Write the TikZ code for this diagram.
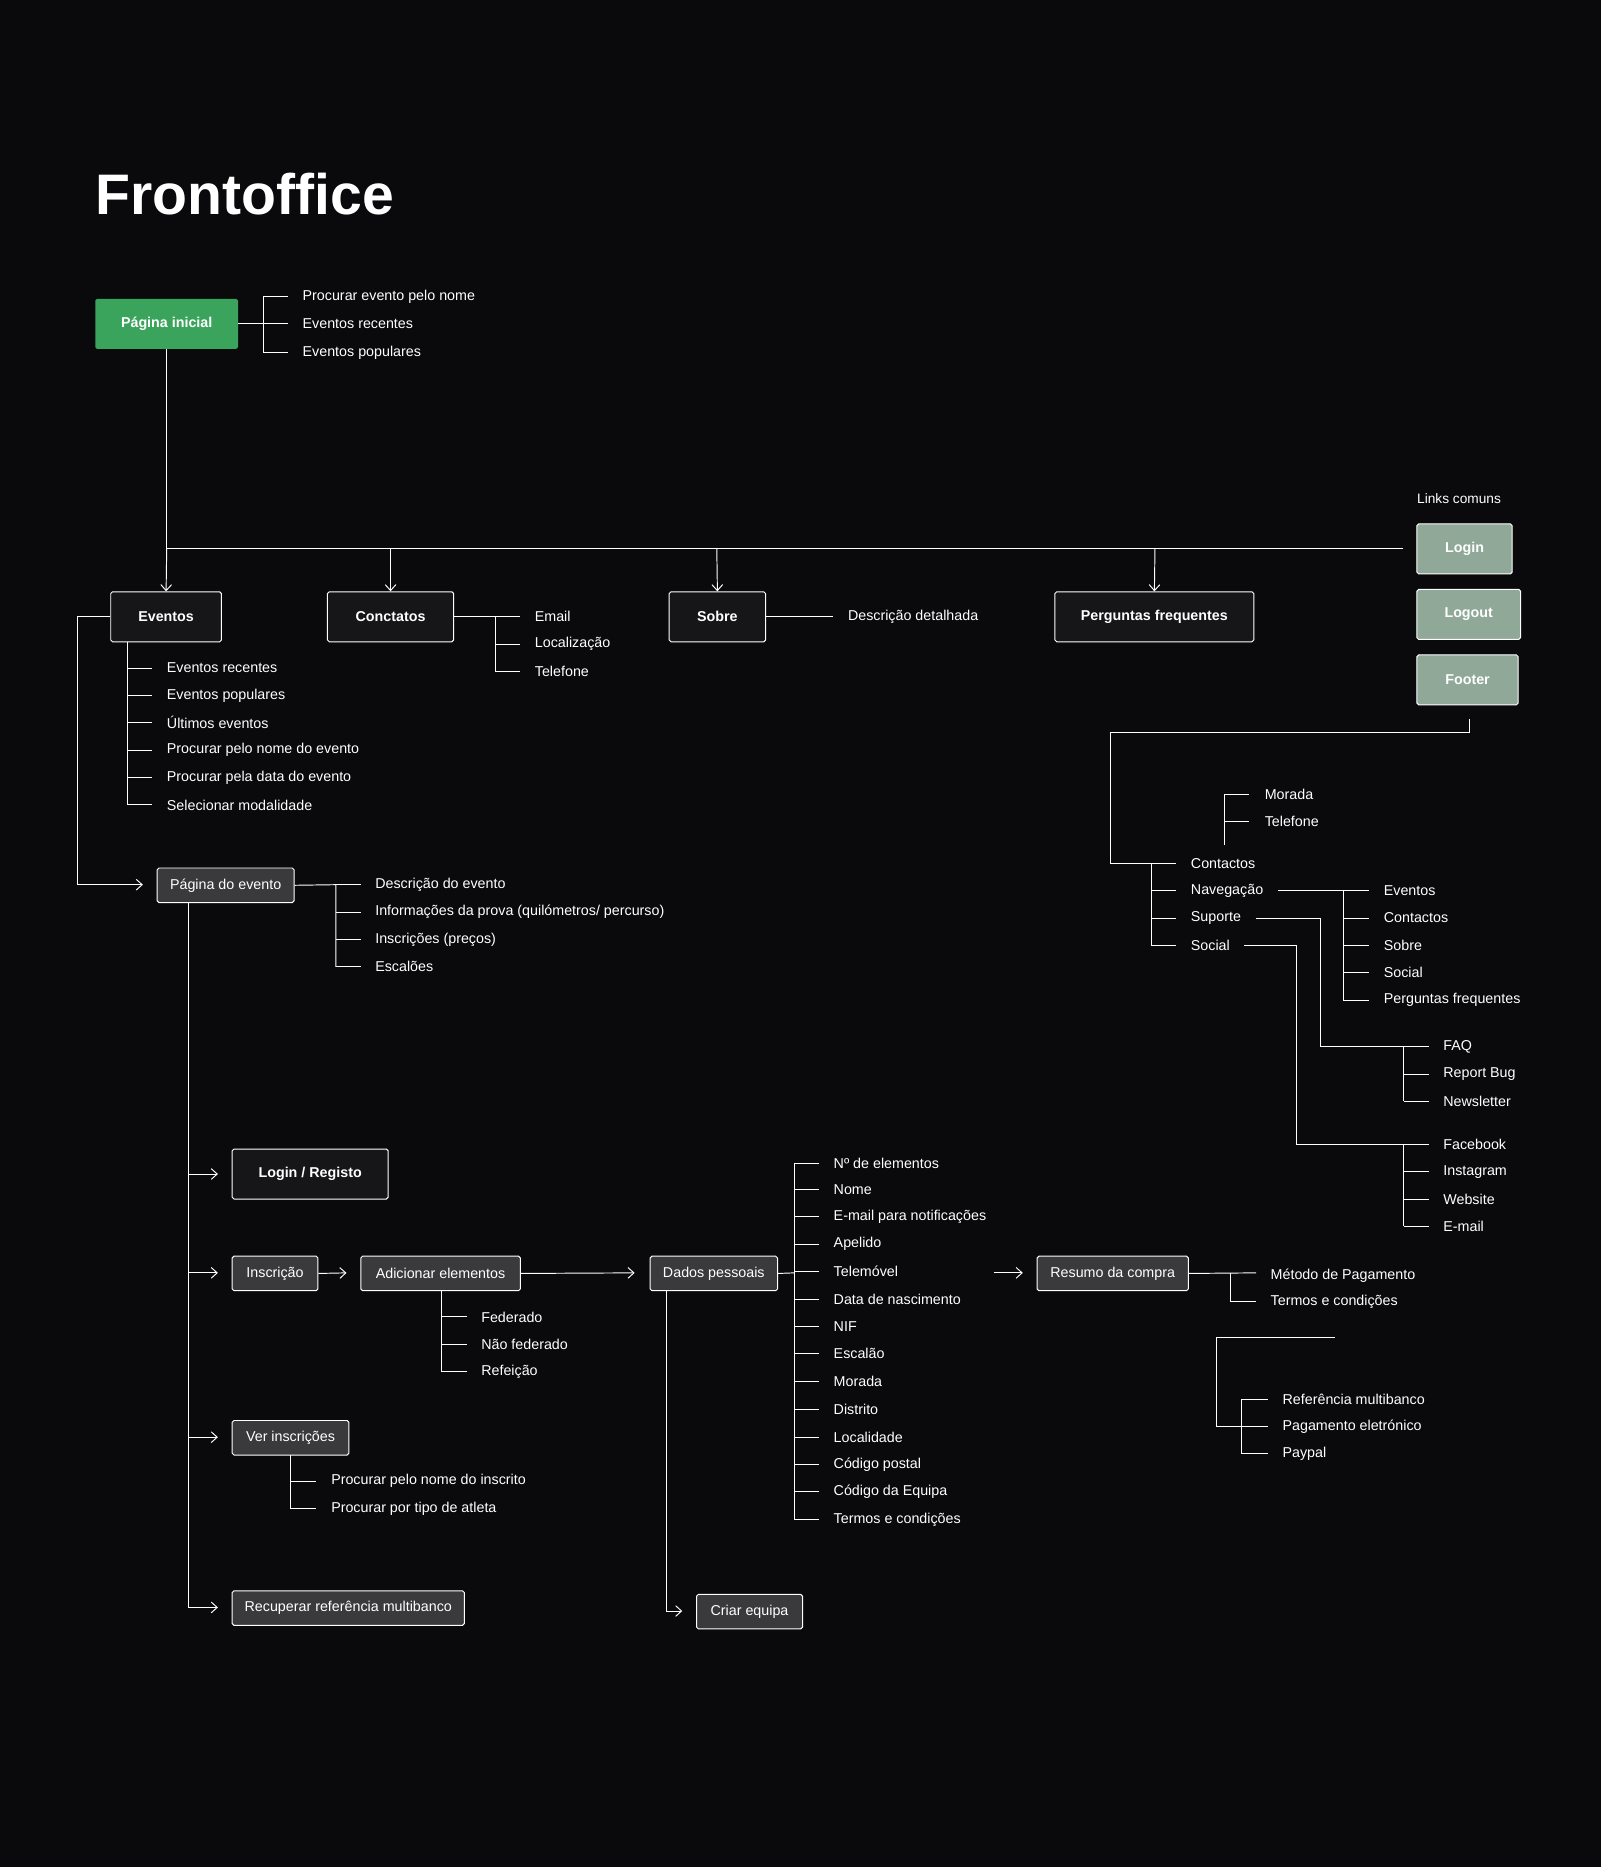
\documentclass[tikz,border=0pt]{standalone}
\usepackage{fontspec}
\setmainfont{Liberation Sans}
\usetikzlibrary{arrows.meta}
\definecolor{bg}{HTML}{0A0A0C}
\definecolor{gr}{HTML}{3AA45C}
\definecolor{sage}{HTML}{8FA898}
\definecolor{gbox}{HTML}{3A3A3C}
\definecolor{dbox}{HTML}{161618}
\begin{document}
\begin{tikzpicture}[x=1pt,y=-1pt,
  ln/.style={draw=white!85,line width=0.8pt},
  ar/.style={ln,-{Straight Barb[length=5pt,width=9pt]}},
  it/.style={anchor=west,inner sep=0pt,text=white,font=\fontsize{12}{14}\selectfont},
  bb/.style={draw=white!90,fill=dbox,text=white,font=\bfseries\fontsize{12}{14}\selectfont,minimum height=42pt,line width=0.8pt,rounded corners=1.5pt},
  gb/.style={draw=white!75,fill=gbox,text=white,font=\fontsize{12}{14}\selectfont,minimum height=29pt,line width=0.8pt,rounded corners=1.5pt},
  sb/.style={draw=white!90,fill=sage,text=white,font=\bfseries\fontsize{12}{14}\selectfont,minimum height=42pt,line width=0.8pt,rounded corners=1.5pt}]
\useasboundingbox (0,0) rectangle (1344,1568);
\fill[bg] (-3,-3) rectangle (1348,1572);
\node[anchor=base west,inner sep=0,text=white,font=\bfseries\fontsize{48}{52}\selectfont] (title) at (80,180) {Frontoffice};
% Pagina inicial
\node[fill=gr,text=white,font=\bfseries\fontsize{12}{14}\selectfont,minimum width=120pt,minimum height=42pt,rounded corners=1.5pt] (pi) at (140,272) {Página inicial};
\node[it] (pi1) at (254,249) {Procurar evento pelo nome};
\node[it] (pi2) at (254,272) {Eventos recentes};
\node[it] (pi3) at (254,296) {Eventos populares};
\draw[ln] (pi.east) -- (221,272);
\draw[ln] (242,249) -- (221,249) -- (221,296) -- (242,296);
\draw[ln] (221,272) -- (242,272);
% top boxes
\node[bb,minimum width=93pt] (ev) at (139.5,518) {Eventos};
\node[bb,minimum width=106pt] (co) at (328,518) {Conctatos};
\node[bb,minimum width=81pt] (so) at (602.5,518) {Sobre};
\node[bb,minimum width=167pt] (pf) at (969.5,518) {Perguntas frequentes};
\node[it,font=\fontsize{11.5}{14}\selectfont] (lc) at (1190,419) {Links comuns};
\node[sb,minimum width=80pt] (lo) at (1230,461) {Login};
\node[sb,minimum width=87pt] (lg) at (1233.5,516) {Logout};
\node[sb,minimum width=85pt] (ft) at (1232.5,571) {Footer};
\coordinate (hr) at (1178,461);
\draw[ln] (pi.south) -- (140,461) -- (hr);
\draw[ar] (140,461) -- (ev.north);
\draw[ar] (328,461) -- (co.north);
\draw[ar] (602,461) -- (so.north);
\draw[ar] (970,461) -- (pf.north);
% Conctatos list
\node[it] (c1) at (449,518) {Email};
\node[it] (c2) at (449,541) {Localização};
\node[it] (c3) at (449,564) {Telefone};
\draw[ln] (co.east) -- (437,518);
\draw[ln] (416,518) -- (416,564) -- (437,564);
\draw[ln] (416,541) -- (437,541);
\node[it] (s1) at (712,518) {Descrição detalhada};
\draw[ln] (so.east) -- (700,518);
% Eventos list
\foreach \t/\y [count=\i] in {Eventos recentes/561,Eventos populares/584,Últimos eventos/607,Procurar pelo nome do evento/630,Procurar pela data do evento/653,Selecionar modalidade/676}{
  \node[it] (e\i) at (140,\y) {\t};
  \draw[ln] (107,\y) -- (128,\y);}
\draw[ln] (107,539) -- (107,676);
% Pagina do evento
\node[gb,minimum width=115pt] (pe) at (189.5,743.5) {Página do evento};
\draw[ar] (ev.west) -- (65,518) -- (65,743) -- (120,743);
\foreach \t/\y [count=\i] in {Descrição do evento/743,{Informações da prova (quilómetros/ percurso)}/766,Inscrições (preços)/789,Escalões/812}{
  \node[it] (d\i) at (315,\y) {\t};
  \draw[ln] (282,\y) -- (303,\y);}
\draw[ln] (pe.east) -- (282,743) -- (282,812);
% branches
\node[bb,minimum width=131pt] (lr) at (260.5,986) {Login / Registo};
\node[gb,minimum width=72pt] (in) at (231,1069.5) {Inscrição};
\node[gb,minimum width=98pt] (vi) at (244,1207.5) {Ver inscrições};
\node[gb,minimum width=195pt] (rr) at (292.5,1350.5) {Recuperar referência multibanco};
\draw[ln] (158,758) -- (158,1350);
\draw[ar] (158,986) -- (183,986);
\draw[ar] (158,1069) -- (183,1069);
\draw[ar] (158,1207) -- (183,1207);
\draw[ar] (158,1350) -- (183,1350);
\node[gb,minimum width=134pt] (ae) at (370,1069.5) {Adicionar elementos};
\node[gb,minimum width=107pt] (dp) at (599.5,1069.5) {Dados pessoais};
\draw[ar] (in.east) -- (291,1069);
\draw[ar] (ae.east) -- (533,1069);
\foreach \t/\y [count=\i] in {Federado/1106,Não federado/1129,Refeição/1152}{
  \node[it] (a\i) at (404,\y) {\t};
  \draw[ln] (371,\y) -- (392,\y);}
\draw[ln] (371,1084) -- (371,1152);
\foreach \t/\y [count=\i] in {Procurar pelo nome do inscrito/1244,Procurar por tipo de atleta/1267}{
  \node[it] (v\i) at (278,\y) {\t};
  \draw[ln] (244,\y) -- (265,\y);}
\draw[ln] (244,1222) -- (244,1267);
\node[gb,minimum width=89pt] (ce) at (629.5,1353.5) {Criar equipa};
\draw[ar] (560,1084) -- (560,1353) -- (573,1353);
\foreach \t/\y [count=\i] in {Nº de elementos/977,Nome/999,E-mail para notificações/1022,Apelido/1045,Telemóvel/1068,Data de nascimento/1091,NIF/1114,Escalão/1137,Morada/1160,Distrito/1184,Localidade/1207,Código postal/1230,Código da Equipa/1253,Termos e condições/1276}{
  \node[it] (p\i) at (700,\y) {\t};
  \draw[ln] (667,\y) -- (688,\y);}
\draw[ln] (667,977) -- (667,1276);
\draw[ln] (dp.east) -- (667,1069);
\coordinate (ra) at (835,1069);
\node[gb,minimum width=127pt] (rc) at (934.5,1069.5) {Resumo da compra};
\draw[ar] (ra) -- (859,1069);
\node[it] (m1) at (1067,1071) {Método de Pagamento};
\node[it] (m2) at (1067,1093) {Termos e condições};
\draw[ln] (rc.east) -- (1055,1069);
\draw[ln] (1033,1069) -- (1033,1093) -- (1055,1093);
\draw[ln] (1121,1123) -- (1022,1123) -- (1022,1198) -- (1043,1198);
\foreach \t/\y [count=\i] in {Referência multibanco/1175,Pagamento eletrónico/1198,Paypal/1221}{
  \node[it] (r\i) at (1077,\y) {\t};
  \draw[ln] (1043,\y) -- (1065,\y);}
\draw[ln] (1043,1175) -- (1043,1221);
% footer
\draw[ln] (1234,604) -- (1234,615) -- (933,615) -- (933,725) -- (988,725);
\foreach \t/\y/\n in {Contactos/725/f1,Navegação/748/f2,Suporte/771/f3,Social/794/f4}{
  \node[it] (\n) at (1000,\y) {\t};
  \draw[ln] (967,\y) -- (988,\y);}
\draw[ln] (967,725) -- (967,794);
\node[it] (mo) at (1062,667) {Morada};
\node[it] (te) at (1062,690) {Telefone};
\draw[ln] (1049,667) -- (1028,667) -- (1028,710);
\draw[ln] (1028,690) -- (1049,690);
\foreach \t/\y [count=\i] in {Eventos/748,Contactos/771,Sobre/794,Social/817,Perguntas frequentes/840}{
  \node[it] (n\i) at (1162,\y) {\t};
  \draw[ln] (1128,\y) -- (1150,\y);}
\draw[ln] (1128,748) -- (1128,840);
\draw[ln] ([xshift=12pt]f2.east) -- (1150,748);
\foreach \t/\y [count=\i] in {FAQ/879,Report Bug/902,Newsletter/925}{
  \node[it] (u\i) at (1212,\y) {\t};
  \draw[ln] (1179,\y) -- (1200,\y);}
\draw[ln] (1179,879) -- (1179,925);
\draw[ln] ([xshift=12pt]f3.east) -- (1109,771) -- (1109,879) -- (1179,879);
\foreach \t/\y [count=\i] in {Facebook/961,Instagram/984,Website/1007,E-mail/1030}{
  \node[it] (o\i) at (1212,\y) {\t};
  \draw[ln] (1179,\y) -- (1200,\y);}
\draw[ln] (1179,961) -- (1179,1030);
\draw[ln] ([xshift=12pt]f4.east) -- (1089,794) -- (1089,961) -- (1179,961);
\end{tikzpicture}
\end{document}
